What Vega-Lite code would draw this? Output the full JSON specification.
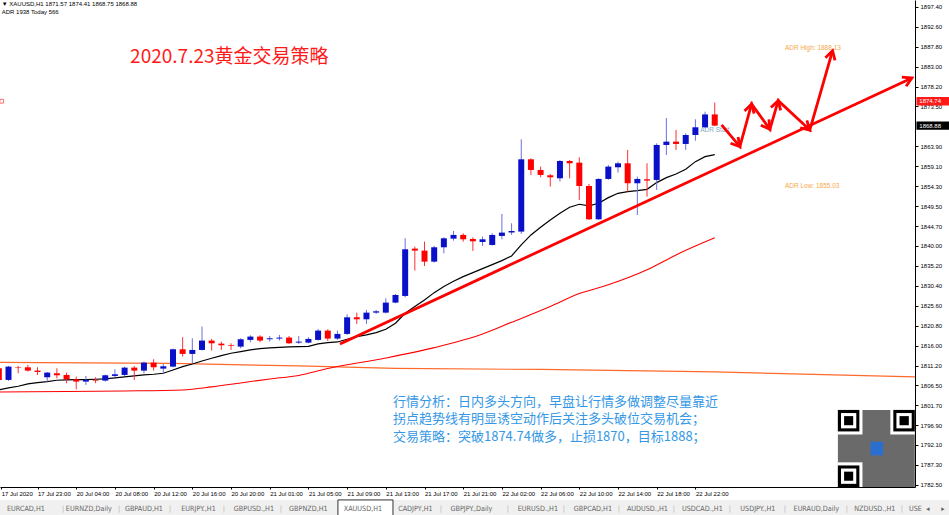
{
  "$schema": "https://vega.github.io/schema/vega-lite/v6.json",
  "width": 915,
  "height": 487,
  "autosize": {"type": "none"},
  "padding": {"left": 0, "top": 0, "right": 34, "bottom": 28},
  "background": "white",
  "config": {"view": {"stroke": null}, "font": "Liberation Sans", "scale": {"continuousPadding": 0}},
  "resolve": {"axis": {"x": "independent", "y": "independent"}},
  "datasets": {
    "candles": [
      {"n": -1, "o": 1810.55, "h": 1810.8, "l": 1807.5, "c": 1807.75},
      {"n": 0, "o": 1807.74, "h": 1811.1, "l": 1807.5, "c": 1810.94},
      {"n": 1, "o": 1810.86, "h": 1811.1, "l": 1809.34, "c": 1810.7},
      {"n": 2, "o": 1810.78, "h": 1811.35, "l": 1809.74, "c": 1809.98},
      {"n": 3, "o": 1809.98, "h": 1810.78, "l": 1808.94, "c": 1809.66},
      {"n": 4, "o": 1808.38, "h": 1809.66, "l": 1807.34, "c": 1809.5},
      {"n": 5, "o": 1809.34, "h": 1810.54, "l": 1808.14, "c": 1808.86},
      {"n": 6, "o": 1808.94, "h": 1809.5, "l": 1806.94, "c": 1807.9},
      {"n": 7, "o": 1807.9, "h": 1808.54, "l": 1805.5, "c": 1807.34},
      {"n": 8, "o": 1807.34, "h": 1808.7, "l": 1806.54, "c": 1807.74},
      {"n": 9, "o": 1807.74, "h": 1808.38, "l": 1806.94, "c": 1807.58},
      {"n": 10, "o": 1807.58, "h": 1809.02, "l": 1807.34, "c": 1808.86},
      {"n": 11, "o": 1808.7, "h": 1810.3, "l": 1808.38, "c": 1809.1},
      {"n": 12, "o": 1808.94, "h": 1810.94, "l": 1808.7, "c": 1810.7},
      {"n": 13, "o": 1810.7, "h": 1811.1, "l": 1807.74, "c": 1809.98},
      {"n": 14, "o": 1809.98, "h": 1812.15, "l": 1809.34, "c": 1811.9},
      {"n": 15, "o": 1811.9, "h": 1812.71, "l": 1809.98, "c": 1810.78},
      {"n": 16, "o": 1810.46, "h": 1811.58, "l": 1809.34, "c": 1811.02},
      {"n": 17, "o": 1810.94, "h": 1815.27, "l": 1810.78, "c": 1815.11},
      {"n": 18, "o": 1815.11, "h": 1818.0, "l": 1813.35, "c": 1813.99},
      {"n": 19, "o": 1813.99, "h": 1817.76, "l": 1811.74, "c": 1814.95},
      {"n": 20, "o": 1814.95, "h": 1820.56, "l": 1814.79, "c": 1817.2},
      {"n": 21, "o": 1817.2, "h": 1817.6, "l": 1814.79, "c": 1816.55},
      {"n": 22, "o": 1816.47, "h": 1816.95, "l": 1814.95, "c": 1816.07},
      {"n": 23, "o": 1816.07, "h": 1816.55, "l": 1814.95, "c": 1815.91},
      {"n": 24, "o": 1815.75, "h": 1817.76, "l": 1815.35, "c": 1817.52},
      {"n": 25, "o": 1817.36, "h": 1818.48, "l": 1816.79, "c": 1818.16},
      {"n": 26, "o": 1818.16, "h": 1818.48, "l": 1816.79, "c": 1817.2},
      {"n": 27, "o": 1817.52, "h": 1818.32, "l": 1816.95, "c": 1817.76},
      {"n": 28, "o": 1817.68, "h": 1818.56, "l": 1817.2, "c": 1817.92},
      {"n": 29, "o": 1817.92, "h": 1818.32, "l": 1816.39, "c": 1816.55},
      {"n": 30, "o": 1816.71, "h": 1818.32, "l": 1816.39, "c": 1816.95},
      {"n": 31, "o": 1816.71, "h": 1818.0, "l": 1816.55, "c": 1817.6},
      {"n": 32, "o": 1817.36, "h": 1820.0, "l": 1817.2, "c": 1819.6},
      {"n": 33, "o": 1819.6, "h": 1819.92, "l": 1817.12, "c": 1817.68},
      {"n": 34, "o": 1817.68, "h": 1819.6, "l": 1817.36, "c": 1818.8},
      {"n": 35, "o": 1818.8, "h": 1823.52, "l": 1818.56, "c": 1822.8},
      {"n": 36, "o": 1822.8, "h": 1823.92, "l": 1821.2, "c": 1822.32},
      {"n": 37, "o": 1822.32, "h": 1824.57, "l": 1821.2, "c": 1823.92},
      {"n": 38, "o": 1823.92, "h": 1824.57, "l": 1823.6, "c": 1824.24},
      {"n": 39, "o": 1823.92, "h": 1827.37, "l": 1823.76, "c": 1826.33},
      {"n": 40, "o": 1826.33, "h": 1828.41, "l": 1826.17, "c": 1828.17},
      {"n": 41, "o": 1827.93, "h": 1841.79, "l": 1827.61, "c": 1839.15},
      {"n": 42, "o": 1839.31, "h": 1839.79, "l": 1834.02, "c": 1838.83},
      {"n": 43, "o": 1838.83, "h": 1840.99, "l": 1835.14, "c": 1836.18},
      {"n": 44, "o": 1836.18, "h": 1839.95, "l": 1835.94, "c": 1839.63},
      {"n": 45, "o": 1839.63, "h": 1842.03, "l": 1838.19, "c": 1841.79},
      {"n": 46, "o": 1841.71, "h": 1843.56, "l": 1841.23, "c": 1842.6},
      {"n": 47, "o": 1842.6, "h": 1843.0, "l": 1840.99, "c": 1841.55},
      {"n": 48, "o": 1841.63, "h": 1842.03, "l": 1838.75, "c": 1841.07},
      {"n": 49, "o": 1840.91, "h": 1842.2, "l": 1839.95, "c": 1841.55},
      {"n": 50, "o": 1840.19, "h": 1843.0, "l": 1840.03, "c": 1842.6},
      {"n": 51, "o": 1842.36, "h": 1847.64, "l": 1841.55, "c": 1843.16},
      {"n": 52, "o": 1843.16, "h": 1845.4, "l": 1842.6, "c": 1843.56},
      {"n": 53, "o": 1843.4, "h": 1865.59, "l": 1842.84, "c": 1860.78},
      {"n": 54, "o": 1860.78, "h": 1861.02, "l": 1857.02, "c": 1858.22},
      {"n": 55, "o": 1858.22, "h": 1859.02, "l": 1856.46, "c": 1857.02},
      {"n": 56, "o": 1856.94, "h": 1857.26, "l": 1854.21, "c": 1856.46},
      {"n": 57, "o": 1856.22, "h": 1860.62, "l": 1855.42, "c": 1860.38},
      {"n": 58, "o": 1860.38, "h": 1860.62, "l": 1856.22, "c": 1859.82},
      {"n": 59, "o": 1859.98, "h": 1861.27, "l": 1851.01, "c": 1854.37},
      {"n": 60, "o": 1854.37, "h": 1854.85, "l": 1846.2, "c": 1846.36},
      {"n": 61, "o": 1846.36, "h": 1856.22, "l": 1846.2, "c": 1856.06},
      {"n": 62, "o": 1856.06, "h": 1859.42, "l": 1855.82, "c": 1859.02},
      {"n": 63, "o": 1858.86, "h": 1860.22, "l": 1857.58, "c": 1859.82},
      {"n": 64, "o": 1859.82, "h": 1863.03, "l": 1853.01, "c": 1855.02},
      {"n": 65, "o": 1855.02, "h": 1856.62, "l": 1847.4, "c": 1856.06},
      {"n": 66, "o": 1855.98, "h": 1859.82, "l": 1851.81, "c": 1855.66},
      {"n": 67, "o": 1855.82, "h": 1864.63, "l": 1853.41, "c": 1864.23},
      {"n": 68, "o": 1864.23, "h": 1870.7, "l": 1861.83, "c": 1865.03},
      {"n": 69, "o": 1865.03, "h": 1867.84, "l": 1863.03, "c": 1864.47},
      {"n": 70, "o": 1864.47, "h": 1867.03, "l": 1863.03, "c": 1866.63},
      {"n": 71, "o": 1866.63, "h": 1870.4, "l": 1865.26, "c": 1868.48},
      {"n": 72, "o": 1868.48, "h": 1872.23, "l": 1868.24, "c": 1871.57},
      {"n": 73, "o": 1871.57, "h": 1874.41, "l": 1868.75, "c": 1868.88}
    ],
    "maFast": [
      {"n": -1, "v": 1805.33}, {"n": 0, "v": 1805.82}, {"n": 1, "v": 1806.22}, {"n": 2, "v": 1806.78},
      {"n": 3, "v": 1807.1}, {"n": 4, "v": 1807.34}, {"n": 5, "v": 1807.66}, {"n": 6, "v": 1807.74},
      {"n": 7, "v": 1807.82}, {"n": 8, "v": 1807.82}, {"n": 9, "v": 1807.9}, {"n": 10, "v": 1807.98},
      {"n": 11, "v": 1808.22}, {"n": 12, "v": 1808.46}, {"n": 13, "v": 1808.7}, {"n": 14, "v": 1808.94},
      {"n": 15, "v": 1809.1}, {"n": 16, "v": 1809.34}, {"n": 17, "v": 1810.14}, {"n": 18, "v": 1810.94},
      {"n": 19, "v": 1811.58}, {"n": 20, "v": 1812.3}, {"n": 21, "v": 1812.95}, {"n": 22, "v": 1813.59},
      {"n": 23, "v": 1814.15}, {"n": 24, "v": 1814.55}, {"n": 25, "v": 1814.95}, {"n": 26, "v": 1815.27},
      {"n": 27, "v": 1815.43}, {"n": 28, "v": 1815.59}, {"n": 29, "v": 1815.67}, {"n": 30, "v": 1815.75},
      {"n": 31, "v": 1815.83}, {"n": 32, "v": 1816.39}, {"n": 33, "v": 1816.71}, {"n": 34, "v": 1816.87},
      {"n": 35, "v": 1817.52}, {"n": 36, "v": 1818.16}, {"n": 37, "v": 1818.56}, {"n": 38, "v": 1819.12},
      {"n": 39, "v": 1819.92}, {"n": 40, "v": 1821.36}, {"n": 41, "v": 1823.76}, {"n": 42, "v": 1825.37},
      {"n": 43, "v": 1826.97}, {"n": 44, "v": 1828.73}, {"n": 45, "v": 1830.18}, {"n": 46, "v": 1831.46},
      {"n": 47, "v": 1832.58}, {"n": 48, "v": 1833.54}, {"n": 49, "v": 1834.5}, {"n": 50, "v": 1835.46},
      {"n": 51, "v": 1836.42}, {"n": 52, "v": 1837.55}, {"n": 53, "v": 1840.19}, {"n": 54, "v": 1842.6},
      {"n": 55, "v": 1844.44}, {"n": 56, "v": 1846.2}, {"n": 57, "v": 1847.8}, {"n": 58, "v": 1849.25},
      {"n": 59, "v": 1849.97}, {"n": 60, "v": 1849.57}, {"n": 61, "v": 1850.21}, {"n": 62, "v": 1851.57},
      {"n": 63, "v": 1852.61}, {"n": 64, "v": 1853.01}, {"n": 65, "v": 1853.25}, {"n": 66, "v": 1853.57},
      {"n": 67, "v": 1855.18}, {"n": 68, "v": 1856.38}, {"n": 69, "v": 1857.26}, {"n": 70, "v": 1858.38},
      {"n": 71, "v": 1860.22}, {"n": 72, "v": 1861.43}, {"n": 73, "v": 1861.91}
    ],
    "maSlow": [
      {"n": -1, "v": 1804.85}, {"n": 6, "v": 1804.97}, {"n": 12, "v": 1805.09}, {"n": 18, "v": 1805.33},
      {"n": 21, "v": 1806.06}, {"n": 24, "v": 1807.02}, {"n": 27, "v": 1807.98}, {"n": 30, "v": 1808.82},
      {"n": 33, "v": 1810.5}, {"n": 39, "v": 1813.0}, {"n": 44, "v": 1815.5}, {"n": 49, "v": 1818.8},
      {"n": 52, "v": 1821.6}, {"n": 56, "v": 1825.4}, {"n": 59, "v": 1828.5}, {"n": 62, "v": 1830.6},
      {"n": 66, "v": 1834.2}, {"n": 69, "v": 1837.8}, {"n": 73, "v": 1841.9}
    ],
    "maLong": [
      {"n": -1, "v": 1811.94}, {"n": 17, "v": 1811.7}, {"n": 30, "v": 1811.1}, {"n": 40, "v": 1810.5},
      {"n": 55, "v": 1810.26}, {"n": 73, "v": 1809.66}, {"n": 93.7, "v": 1808.46}
    ],
    "arrows": [
      {"g": "trend", "k": 0, "n": 34.26, "p": 1816.39}, {"g": "trend", "k": 1, "n": 93.38, "p": 1880.33},
      {"g": "trendHead", "k": 0, "n": 92.34, "p": 1880.55}, {"g": "trendHead", "k": 1, "n": 93.38, "p": 1880.33}, {"g": "trendHead", "k": 2, "n": 92.78, "p": 1878.36},
      {"g": "zig", "k": 0, "n": 73.71, "p": 1869.04}, {"g": "zig", "k": 1, "n": 75.6, "p": 1863.82},
      {"g": "zig", "k": 2, "n": 76.81, "p": 1874.08}, {"g": "zig", "k": 3, "n": 78.7, "p": 1868.0},
      {"g": "zig", "k": 4, "n": 79.56, "p": 1874.88}, {"g": "zig", "k": 5, "n": 82.83, "p": 1867.83},
      {"g": "zig", "k": 6, "n": 85.18, "p": 1886.9},
      {"g": "h1", "k": 0, "n": 75.41, "p": 1866.17}, {"g": "h1", "k": 1, "n": 75.6, "p": 1863.82}, {"g": "h1", "k": 2, "n": 74.63, "p": 1864.64},
      {"g": "h2", "k": 0, "n": 76.08, "p": 1872.4}, {"g": "h2", "k": 1, "n": 76.81, "p": 1874.08}, {"g": "h2", "k": 2, "n": 77.07, "p": 1871.75},
      {"g": "h3", "k": 0, "n": 78.6, "p": 1870.38}, {"g": "h3", "k": 1, "n": 78.7, "p": 1868.0}, {"g": "h3", "k": 2, "n": 77.76, "p": 1868.99},
      {"g": "h4", "k": 0, "n": 78.81, "p": 1873.22}, {"g": "h4", "k": 1, "n": 79.56, "p": 1874.88}, {"g": "h4", "k": 2, "n": 79.81, "p": 1872.54},
      {"g": "h5", "k": 0, "n": 82.52, "p": 1870.13}, {"g": "h5", "k": 1, "n": 82.83, "p": 1867.83}, {"g": "h5", "k": 2, "n": 81.83, "p": 1868.36},
      {"g": "h6", "k": 0, "n": 84.44, "p": 1885.22}, {"g": "h6", "k": 1, "n": 85.18, "p": 1886.9}, {"g": "h6", "k": 2, "n": 85.43, "p": 1884.56}
    ],
    "tabs": [
      {"label": "EURCAD,H1", "n": 1.8}, {"label": "|", "n": 5.63},
      {"label": "EURNZD,Daily", "n": 8.3}, {"label": "|", "n": 11.42},
      {"label": "GBPAUD,H1", "n": 14.0}, {"label": "|", "n": 16.69},
      {"label": "EURJPY.,H1", "n": 19.64}, {"label": "|", "n": 22.27},
      {"label": "GBPUSD.,H1", "n": 25.37}, {"label": "|", "n": 28.16},
      {"label": "GBPNZD,H1", "n": 31.0},
      {"label": "XAUUSD,H1", "n": 36.64},
      {"label": "CADJPY,H1", "n": 42.06}, {"label": "|", "n": 44.7},
      {"label": "GBPJPY.,Daily", "n": 47.85}, {"label": "|", "n": 51.62},
      {"label": "EURUSD.,H1", "n": 54.72}, {"label": "|", "n": 57.41},
      {"label": "GBPCAD,H1", "n": 60.41}, {"label": "|", "n": 63.09},
      {"label": "AUDUSD.,H1", "n": 66.04}, {"label": "|", "n": 68.78},
      {"label": "USDCAD.,H1", "n": 71.72}, {"label": "|", "n": 74.57},
      {"label": "USDJPY.,H1", "n": 77.46}, {"label": "|", "n": 80.25},
      {"label": "EURAUD,Daily", "n": 83.5}, {"label": "|", "n": 86.66},
      {"label": "NZDUSD.,H1", "n": 89.55}, {"label": "|", "n": 92.34},
      {"label": "USE", "n": 93.74}, {"label": "◂", "n": 95.03}, {"label": "▸", "n": 96.58}
    ],
    "qr": [
      {"part": "bg", "n1": 85.73, "n2": 93.68, "p1": 1782.0, "p2": 1800.53},
      {"part": "sep", "n1": 85.73, "n2": 88.27, "p1": 1794.62, "p2": 1800.53},
      {"part": "sep", "n1": 91.15, "n2": 93.68, "p1": 1794.62, "p2": 1800.53},
      {"part": "sep", "n1": 85.73, "n2": 88.27, "p1": 1782.0, "p2": 1787.93},
      {"part": "outer", "n1": 85.73, "n2": 87.95, "p1": 1795.36, "p2": 1800.53},
      {"part": "outer", "n1": 91.46, "n2": 93.68, "p1": 1795.36, "p2": 1800.53},
      {"part": "outer", "n1": 85.73, "n2": 87.95, "p1": 1782.0, "p2": 1787.18},
      {"part": "ring", "n1": 86.05, "n2": 87.63, "p1": 1796.1, "p2": 1799.78},
      {"part": "ring", "n1": 91.78, "n2": 93.36, "p1": 1796.1, "p2": 1799.78},
      {"part": "ring", "n1": 86.05, "n2": 87.63, "p1": 1782.76, "p2": 1786.44},
      {"part": "core", "n1": 86.37, "n2": 87.31, "p1": 1796.85, "p2": 1799.04},
      {"part": "core", "n1": 92.1, "n2": 93.06, "p1": 1796.85, "p2": 1799.04},
      {"part": "core", "n1": 86.37, "n2": 87.31, "p1": 1783.5, "p2": 1785.69},
      {"part": "logo", "n1": 89.1, "n2": 90.4, "p1": 1789.6, "p2": 1792.9}
    ]
  },
  "layer": [
    {
      "data": {"values": [{"n1": -1.5, "n2": 98.5, "p1": 1775.0, "p2": 1778.9}]},
      "mark": {"type": "rect", "color": "#f0f0f0", "clip": false},
      "encoding": {
        "x": {"field": "n1", "type": "quantitative", "scale": {"domain": [-0.88, 93.7], "nice": false, "zero": false}, "axis": null},
        "x2": {"field": "n2"},
        "y": {"field": "p1", "type": "quantitative", "scale": {"domain": [1782.0, 1899.08], "nice": false, "zero": false}, "axis": null},
        "y2": {"field": "p2"}
      }
    },
    {
      "data": {"values": [{"n1": 34.05, "n2": 39.74, "p1": 1775.1, "p2": 1778.89}]},
      "mark": {"type": "rect", "fill": "#ffffff", "stroke": "#333333", "strokeWidth": 1, "clip": false},
      "encoding": {
        "x": {"field": "n1", "type": "quantitative", "scale": {"domain": [-0.88, 93.7], "nice": false, "zero": false}, "axis": null},
        "x2": {"field": "n2"},
        "y": {"field": "p1", "type": "quantitative", "scale": {"domain": [1782.0, 1899.08], "nice": false, "zero": false}, "axis": null},
        "y2": {"field": "p2"}
      }
    },
    {
      "data": {"name": "tabs"},
      "mark": {"type": "text", "fontSize": 7.2, "font": "DejaVu Sans Condensed", "align": "center", "baseline": "middle", "clip": false},
      "encoding": {
        "x": {"field": "n", "type": "quantitative", "scale": {"domain": [-0.88, 93.7], "nice": false, "zero": false}, "axis": null},
        "y": {"datum": 1776.6, "type": "quantitative", "scale": {"domain": [1782.0, 1899.08], "nice": false, "zero": false}, "axis": null},
        "text": {"field": "label"},
        "color": {"condition": {"test": "datum.label == '|'", "value": "#b0b0b0"}, "value": "#666666"}
      }
    },
    {
      "mark": {"type": "rule", "color": "#ff6666", "strokeWidth": 1},
      "encoding": {"y": {"datum": 1874.74, "type": "quantitative", "scale": {"domain": [1782.0, 1899.08], "nice": false, "zero": false}, "axis": null}}
    },
    {
      "mark": {"type": "rule", "color": "#8c98aa", "strokeWidth": 1},
      "encoding": {"y": {"datum": 1868.88, "type": "quantitative", "scale": {"domain": [1782.0, 1899.08], "nice": false, "zero": false}, "axis": null}}
    },
    {
      "data": {"values": [{"n": -0.7, "p": 1874.74}]},
      "mark": {"type": "point", "shape": "square", "size": 14, "filled": true, "fill": "#ffffff", "stroke": "#ff3333", "strokeWidth": 1, "clip": false},
      "encoding": {
        "x": {"field": "n", "type": "quantitative", "scale": {"domain": [-0.88, 93.7], "nice": false, "zero": false}, "axis": null},
        "y": {"field": "p", "type": "quantitative", "scale": {"domain": [1782.0, 1899.08], "nice": false, "zero": false}, "axis": null}
      }
    },
    {
      "mark": {"type": "rule", "color": "#a0a0a0", "strokeWidth": 1, "strokeDash": [1, 2]},
      "encoding": {"x": {"datum": 73, "type": "quantitative", "scale": {"domain": [-0.88, 93.7], "nice": false, "zero": false}, "axis": null}}
    },
    {
      "data": {"name": "maLong"},
      "mark": {"type": "line", "color": "#ff6a2b", "strokeWidth": 1.2, "clip": true},
      "encoding": {
        "x": {"field": "n", "type": "quantitative", "scale": {"domain": [-0.88, 93.7], "nice": false, "zero": false}, "axis": null},
        "y": {"field": "v", "type": "quantitative", "scale": {"domain": [1782.0, 1899.08], "nice": false, "zero": false}, "axis": null}
      }
    },
    {
      "data": {"name": "maSlow"},
      "mark": {"type": "line", "color": "#ff0000", "strokeWidth": 1.1, "interpolate": "monotone", "clip": true},
      "encoding": {
        "x": {"field": "n", "type": "quantitative", "scale": {"domain": [-0.88, 93.7], "nice": false, "zero": false}, "axis": null},
        "y": {"field": "v", "type": "quantitative", "scale": {"domain": [1782.0, 1899.08], "nice": false, "zero": false}, "axis": null}
      }
    },
    {
      "data": {"name": "maFast"},
      "mark": {"type": "line", "color": "#000000", "strokeWidth": 1.2, "clip": true},
      "encoding": {
        "x": {"field": "n", "type": "quantitative", "scale": {"domain": [-0.88, 93.7], "nice": false, "zero": false}, "axis": null},
        "y": {"field": "v", "type": "quantitative", "scale": {"domain": [1782.0, 1899.08], "nice": false, "zero": false}, "axis": null}
      }
    },
    {
      "data": {"values": [
        {"t": "ADR High: 1888.13", "n": 80.25, "p": 1887.6, "k": "hi"},
        {"t": "ADR Low: 1855.03", "n": 80.25, "p": 1854.4, "k": "lo"},
        {"t": "ADR Start", "n": 71.5, "p": 1867.8, "k": "st"}
      ]},
      "mark": {"type": "text", "fontSize": 6.5, "align": "left", "baseline": "middle"},
      "encoding": {
        "x": {"field": "n", "type": "quantitative", "scale": {"domain": [-0.88, 93.7], "nice": false, "zero": false}, "axis": null},
        "y": {"field": "p", "type": "quantitative", "scale": {"domain": [1782.0, 1899.08], "nice": false, "zero": false}, "axis": null},
        "text": {"field": "t"},
        "color": {"condition": {"test": "datum.k == 'st'", "value": "#86a8c8"}, "value": "#f5a848"}
      }
    },
    {
      "data": {"name": "candles"},
      "mark": {"type": "rule", "strokeWidth": 1, "clip": true},
      "encoding": {
        "x": {"field": "n", "type": "quantitative", "scale": {"domain": [-0.88, 93.7], "nice": false, "zero": false},
          "axis": {"orient": "bottom", "values": [-0.75, 3, 7, 11, 15, 19, 23, 27, 31, 35, 39, 43, 47, 51, 55, 59, 63, 67, 71],
            "labelExpr": "datum.value < 0 ? '17 Jul 2020' : ['17 Jul 23:00','20 Jul 04:00','20 Jul 08:00','20 Jul 12:00','20 Jul 16:00','20 Jul 20:00','21 Jul 01:00','21 Jul 05:00','21 Jul 09:00','21 Jul 13:00','21 Jul 17:00','21 Jul 21:00','22 Jul 02:00','22 Jul 06:00','22 Jul 10:00','22 Jul 14:00','22 Jul 18:00','22 Jul 22:00'][round((datum.value - 3) / 4)]",
            "labelAlign": "left", "labelFontSize": 6, "labelColor": "#000000", "labelPadding": 1, "tickSize": 2, "tickColor": "#000000",
            "domainColor": "#000000", "grid": false, "title": null, "labelOverlap": false, "labelFlush": false, "labelBound": false}},
        "y": {"field": "l", "type": "quantitative", "scale": {"domain": [1782.0, 1899.08], "nice": false, "zero": false},
          "axis": {"orient": "right", "values": [1782.5, 1787.3, 1792.1, 1796.9, 1801.7, 1806.5, 1811.2, 1816.0, 1820.8, 1825.6, 1830.4, 1835.2, 1840.0, 1844.7, 1849.5, 1854.3, 1859.1, 1863.9, 1873.5, 1878.2, 1883.0, 1887.8, 1892.6, 1897.4],
            "format": ".2f", "labelFontSize": 6, "labelColor": "#000000", "labelPadding": 2, "tickSize": 3, "tickColor": "#000000",
            "domainColor": "#000000", "grid": false, "title": null, "labelOverlap": false, "labelFlush": false, "labelBound": false}},
        "y2": {"field": "h"},
        "color": {"condition": {"test": "datum.c < datum.o", "value": "#ff3030"}, "value": "#6a70e0"}
      }
    },
    {
      "data": {"name": "candles"},
      "mark": {"type": "bar", "width": 6, "clip": true},
      "encoding": {
        "x": {"field": "n", "type": "quantitative", "scale": {"domain": [-0.88, 93.7], "nice": false, "zero": false}, "axis": null},
        "y": {"field": "o", "type": "quantitative", "scale": {"domain": [1782.0, 1899.08], "nice": false, "zero": false}, "axis": null},
        "y2": {"field": "c"},
        "color": {"condition": {"test": "datum.c < datum.o", "value": "#ff0000"}, "value": "#0a10c8"}
      }
    },
    {
      "data": {"name": "arrows"},
      "mark": {"type": "line", "color": "#ff0000", "strokeWidth": 2.8, "clip": false},
      "encoding": {
        "x": {"field": "n", "type": "quantitative", "scale": {"domain": [-0.88, 93.7], "nice": false, "zero": false}, "axis": null},
        "y": {"field": "p", "type": "quantitative", "scale": {"domain": [1782.0, 1899.08], "nice": false, "zero": false}, "axis": null},
        "detail": {"field": "g"},
        "order": {"field": "k"}
      }
    },
    {
      "data": {"values": [{"t": "2020.7.23黄金交易策略", "n": 12.57, "p": 1885.4}]},
      "mark": {"type": "text", "fontSize": 19, "font": "Noto Sans CJK SC", "color": "#ff1a1a", "align": "left", "baseline": "middle"},
      "encoding": {
        "x": {"field": "n", "type": "quantitative", "scale": {"domain": [-0.88, 93.7], "nice": false, "zero": false}, "axis": null},
        "y": {"field": "p", "type": "quantitative", "scale": {"domain": [1782.0, 1899.08], "nice": false, "zero": false}, "axis": null},
        "text": {"field": "t"}
      }
    },
    {
      "data": {"values": [
        {"t": "行情分析：日内多头方向，早盘让行情多做调整尽量靠近", "n": 39.74, "p": 1802.52},
        {"t": "拐点趋势线有明显诱空动作后关注多头破位交易机会；", "n": 39.74, "p": 1798.29},
        {"t": "交易策略：突破1874.74做多，止损1870，目标1888；", "n": 39.74, "p": 1793.96}
      ]},
      "mark": {"type": "text", "fontSize": 13, "font": "Noto Sans CJK SC", "color": "#3598e6", "align": "left", "baseline": "middle"},
      "encoding": {
        "x": {"field": "n", "type": "quantitative", "scale": {"domain": [-0.88, 93.7], "nice": false, "zero": false}, "axis": null},
        "y": {"field": "p", "type": "quantitative", "scale": {"domain": [1782.0, 1899.08], "nice": false, "zero": false}, "axis": null},
        "text": {"field": "t"}
      }
    },
    {
      "data": {"values": [
        {"t": "▼ XAUUSD,H1  1871.57 1874.41 1868.75 1868.88", "n": -0.7, "p": 1898.2},
        {"t": "ADR 1938  Today 566", "n": -0.7, "p": 1896.1}
      ]},
      "mark": {"type": "text", "fontSize": 6, "color": "#000000", "align": "left", "baseline": "middle"},
      "encoding": {
        "x": {"field": "n", "type": "quantitative", "scale": {"domain": [-0.88, 93.7], "nice": false, "zero": false}, "axis": null},
        "y": {"field": "p", "type": "quantitative", "scale": {"domain": [1782.0, 1899.08], "nice": false, "zero": false}, "axis": null},
        "text": {"field": "t"}
      }
    },
    {
      "data": {"name": "qr"},
      "mark": {"type": "rect", "clip": false},
      "encoding": {
        "x": {"field": "n1", "type": "quantitative", "scale": {"domain": [-0.88, 93.7], "nice": false, "zero": false}, "axis": null},
        "x2": {"field": "n2"},
        "y": {"field": "p1", "type": "quantitative", "scale": {"domain": [1782.0, 1899.08], "nice": false, "zero": false}, "axis": null},
        "y2": {"field": "p2"},
        "color": {"condition": [
          {"test": "datum.part == 'bg'", "value": "#6a6a6a"},
          {"test": "datum.part == 'sep' || datum.part == 'ring'", "value": "#ffffff"},
          {"test": "datum.part == 'logo'", "value": "#2a6fd0"}
        ], "value": "#000000"}
      }
    },
    {
      "data": {"values": [
        {"n1": 93.85, "n2": 97.4, "p1": 1873.72, "p2": 1875.77, "k": "r"},
        {"n1": 93.85, "n2": 97.4, "p1": 1867.9, "p2": 1869.9, "k": "b"}
      ]},
      "mark": {"type": "rect", "clip": false},
      "encoding": {
        "x": {"field": "n1", "type": "quantitative", "scale": {"domain": [-0.88, 93.7], "nice": false, "zero": false}, "axis": null},
        "x2": {"field": "n2"},
        "y": {"field": "p1", "type": "quantitative", "scale": {"domain": [1782.0, 1899.08], "nice": false, "zero": false}, "axis": null},
        "y2": {"field": "p2"},
        "color": {"condition": {"test": "datum.k == 'r'", "value": "#ff1a1a"}, "value": "#000000"}
      }
    },
    {
      "data": {"values": [
        {"t": "1874.74", "n": 94.15, "p": 1874.74},
        {"t": "1868.88", "n": 94.15, "p": 1868.88}
      ]},
      "mark": {"type": "text", "fontSize": 6, "color": "#ffffff", "align": "left", "baseline": "middle", "clip": false},
      "encoding": {
        "x": {"field": "n", "type": "quantitative", "scale": {"domain": [-0.88, 93.7], "nice": false, "zero": false}, "axis": null},
        "y": {"field": "p", "type": "quantitative", "scale": {"domain": [1782.0, 1899.08], "nice": false, "zero": false}, "axis": null},
        "text": {"field": "t"}
      }
    }
  ]
}
